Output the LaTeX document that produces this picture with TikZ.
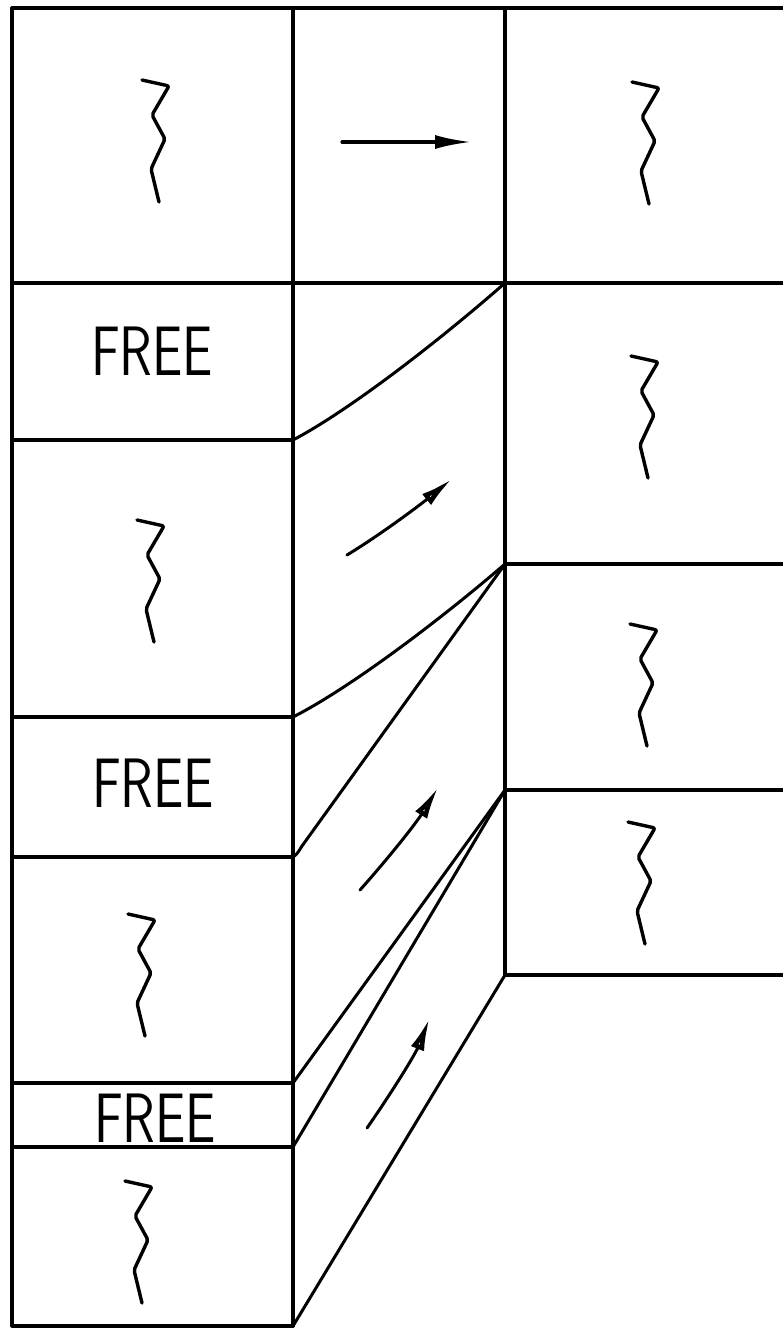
\documentclass[tikz,border=0pt]{standalone}
\usepackage{graphicx}
\usetikzlibrary{arrows.meta}
\begin{document}
\begin{tikzpicture}[x=1pt,y=-1pt,
  box/.style={line width=3.2pt, line cap=round, line join=round},
  slant/.style={line width=3pt, line cap=round},
  squigline/.style={line width=3.4pt, line cap=round, line join=round, rounded corners=2pt},
  arrfill/.style={line width=3.2pt, line cap=round, -{Latex[length=36pt,width=14pt]}},
  arropen/.style={line width=3pt, line cap=round, -{Latex[open,length=34pt,width=14pt,line width=4.5pt]}},
  freelabel/.style={inner sep=0pt, anchor=base, font=\sffamily\fontsize{70}{70}\selectfont},
  squig/.pic={\draw[squigline] (0,0) -- (27,6) -- (10,35) -- (23,59) -- (9,89) -- (17,122);}
]
\useasboundingbox (0,0) rectangle (782,1333);
% frame coordinates
\coordinate (tl) at (12,8);
\coordinate (tm) at (293,8);
\coordinate (tr) at (505,8);
\coordinate (te) at (784,8);
\coordinate (bl) at (12,1326);
\coordinate (bm) at (293,1326);
\coordinate (rb) at (505,975);
% left column boundaries
\coordinate (la) at (12,283);   \coordinate (ma) at (293,283);
\coordinate (lb) at (12,440);   \coordinate (mb) at (293,440);
\coordinate (lc) at (12,717);   \coordinate (mc) at (293,717);
\coordinate (ld) at (12,857);   \coordinate (md) at (293,857);
\coordinate (le) at (12,1083);  \coordinate (me) at (293,1083);
\coordinate (lf) at (12,1147);  \coordinate (mf) at (293,1147);
% right column boundaries
\coordinate (ra) at (505,283);  \coordinate (ea) at (784,283);
\coordinate (rc) at (505,564);  \coordinate (ec) at (784,564);
\coordinate (rd) at (505,790);  \coordinate (ed) at (784,790);
\coordinate (eb) at (784,975);
% outer lines
\draw[box] (te) -- (tl) -- (bl) -- (bm);
\draw[box] (tm) -- (bm);
\draw[box] (tr) -- (rb);
\draw[box] (la) -- (ea);
\draw[box] (lb) -- (mb);
\draw[box] (lc) -- (mc);
\draw[box] (ld) -- (md);
\draw[box] (le) -- (me);
\draw[box] (lf) -- (mf);
\draw[box] (rc) -- (ec);
\draw[box] (rd) -- (ed);
\draw[box] (rb) -- (eb);
% slanted boundaries in the middle column
\draw[slant] (mb) .. controls (350,410) and (440,340) .. (ra);
\draw[slant] (mc) .. controls (350,688) and (440,620) .. (rc);
\draw[slant] (md) .. controls (297,854) .. (302,846) -- (rc);
\draw[slant] (me) -- (rd);
\draw[slant] (mf) -- (rd);
\draw[slant] (bm) -- (rb);
% arrows
\coordinate (a0s) at (342,142); \coordinate (a0e) at (471,142);
\draw[arrfill] (a0s) -- (a0e);
\coordinate (a1s) at (347,555); \coordinate (a1e) at (453,478);
\draw[arropen] (a1s) .. controls (380,535) and (420,505) .. (a1e);
\coordinate (a2s) at (360,890); \coordinate (a2e) at (439,786);
\draw[arropen] (a2s) .. controls (385,862) and (415,825) .. (a2e);
\coordinate (a3s) at (367,1128); \coordinate (a3e) at (430,1017);
\draw[arropen] (a3s) .. controls (390,1095) and (415,1055) .. (a3e);
% labels
\node[freelabel] (free1) at (152,375) {\scalebox{0.77}[1]{FREE}};
\node[freelabel] (free2) at (153,807) {\scalebox{0.77}[1]{FREE}};
\node[freelabel] (free3) at (155,1142) {\scalebox{0.77}[1]{FREE}};
% squiggles
\pic at (142,80) {squig};
\pic at (632,82) {squig};
\pic at (631,356) {squig};
\pic at (137,520) {squig};
\pic at (630,624) {squig};
\pic at (628,822) {squig};
\pic at (128,914) {squig};
\pic at (125,1181) {squig};
\end{tikzpicture}
\end{document}
